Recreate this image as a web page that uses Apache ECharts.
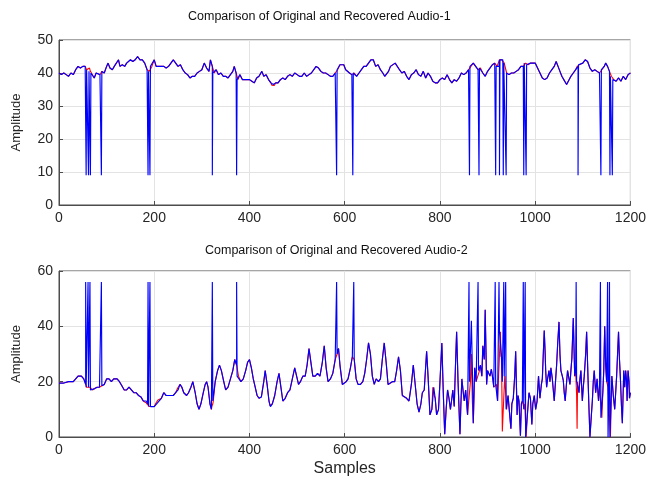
<!DOCTYPE html>
<html>
<head>
<meta charset="utf-8">
<script src="https://cdn.jsdelivr.net/npm/echarts@6/dist/echarts.min.js"></script>
<style>html,body{margin:0;padding:0;background:#fff;}#c{width:649px;height:480px;}</style>
</head>
<body>
<div id="c"></div>
<script>
// ---------- Audio-1 (recovered, without impulses) : [sample, amplitude]
const audio1 = [[0,40],[5,39.5],[10,40],[15,39.5],[20,39],[25,40],[30,39.5],[35,41],[40,42],[45,41.5],[50,42],[55,42],[58,41],[62,41],[66,40.5],[70,40],[74,38.5],[78,40],[82,40],[86,39.5],[90,40.5],[95,40],[100,42],[103,43],[107,41.5],[112,41],[116,42],[120,42.5],[125,44],[128,42],[133,42.5],[138,42],[142,43],[146,42.5],[150,44],[155,43.5],[160,44],[165,45],[170,44],[175,44],[180,43],[185,41],[190,40.5],[195,42],[200,44],[204,42],[210,42],[215,42],[220,42],[225,41.5],[230,42],[235,43],[240,44],[245,43],[250,42],[255,42.5],[260,41],[265,40],[270,39.5],[275,38.5],[280,39],[285,39],[290,40],[295,40.5],[300,41],[305,43],[310,41.5],[315,40.5],[318,44],[322,42],[326,40],[330,41],[335,39.5],[340,40],[345,39],[350,39],[355,38.5],[360,39.5],[365,40.5],[368,42],[372,40],[376,38],[380,39.5],[385,38],[390,38],[395,38],[400,38],[405,37.5],[410,37],[415,38.5],[420,39],[426,40.5],[430,39],[435,39.5],[440,38],[445,37],[450,36.5],[455,37],[460,37],[465,38],[470,38.5],[475,38],[480,39],[485,39.5],[490,39],[495,40],[500,39.5],[505,39],[510,39],[515,40],[520,39],[525,39.5],[530,40],[535,41],[540,42],[545,41.5],[550,40.5],[555,40],[560,40],[565,39.5],[570,39],[575,39],[580,40],[585,41],[590,42.5],[594,43],[598,42.5],[602,41],[606,41.5],[610,40],[615,39.5],[620,40],[625,39],[630,40],[635,41],[640,42],[645,42],[650,43],[655,44],[660,44],[665,42],[670,42.5],[675,41],[680,40],[684,39],[688,39.5],[692,40.5],[696,42],[700,42],[706,43],[710,42.5],[715,41],[720,40],[725,40.5],[730,39],[735,38],[740,39.5],[745,40],[750,41],[755,39.5],[760,39],[765,40.5],[770,38.5],[775,40],[780,39],[785,37.5],[790,37],[795,37],[800,38],[805,38.5],[810,38],[815,39.5],[820,38],[825,37],[830,38],[835,37.5],[840,38.5],[845,40],[850,39.5],[855,40],[860,41],[865,42],[870,43],[875,42],[880,41],[885,41.5],[890,40],[895,39],[900,40.5],[905,41.5],[910,42.5],[915,43],[920,42],[925,44],[930,44],[935,43],[940,40],[945,39.5],[950,40],[955,40],[960,40.5],[965,41],[970,42],[975,42],[980,43],[985,42.5],[990,43],[995,43],[1000,43],[1005,41.5],[1010,40],[1015,38.5],[1020,38],[1025,38.5],[1030,40],[1035,41],[1040,42],[1044,43.5],[1048,42],[1052,40.5],[1056,39],[1060,38],[1066,36.5],[1070,37],[1075,39],[1080,40],[1085,41],[1090,42],[1095,42.5],[1100,43],[1105,44],[1110,43.5],[1115,41.5],[1120,40.5],[1125,41],[1130,40.5],[1135,40],[1140,41],[1145,42],[1148,43],[1152,42],[1156,40.5],[1160,39],[1165,38],[1170,37.5],[1175,38.5],[1180,37.5],[1185,39],[1190,38],[1195,39.5],[1200,40]];
// impulse positions (samples) and impulse level in Audio-1
const spikes1 = [57,62,66,89,187,191,322,373,583,617,862,882,917,925,933,939,976,981,1090,1138,1157,1162];
const spikeLevel1 = 9;
// points where the original Audio-1 differs from the recovered one
const origDiff1 = [[64,41.5],[92,41],[181,43.5],[184,42.5],[257,43],[259,42],[320,43],[447,36.3],[452,36.2],[872,43.5],[984,43.2],[1088,42],[1092,42.6],[1094,42.6]];

// ---------- Audio-2 (recovered, without impulses)
const audio2 = [[0,19.5],[10,19.5],[20,20],[30,20],[35,21],[40,22],[47,22],[52,21],[56,19],[60,18],[65,18],[70,17],[75,17.5],[80,18],[85,18],[90,18.5],[95,19],[100,21],[105,21],[110,20],[115,21],[122,21],[127,20],[132,18.5],[137,17],[142,17],[147,18],[152,17],[157,16],[162,16],[167,15],[172,14.5],[177,13],[183,13],[186,12],[190,11],[195,11],[200,11],[205,12],[210,13],[215,14],[220,16],[225,15],[232,15],[240,15],[245,16],[250,17],[254,19],[258,18],[262,16],[268,15],[272,16],[277,18],[281,20],[286,16],[290,12],[294,10],[298,12],[303,16],[307,19],[310,20],[313,18],[317,12],[320,10],[324,13],[328,20],[333,24],[337,26],[341,24],[346,20],[350,17],[355,18],[360,21],[365,24],[369,28],[373,26],[377,22],[382,20],[387,21],[392,24],[396,27],[400,28],[404,25],[408,21],[412,18],[416,15],[420,14],[425,14.5],[430,20],[433,24],[437,19],[441,13],[444,11],[448,12],[453,15],[458,20],[462,23],[466,18],[470,13],[475,14],[480,16],[485,17],[490,21],[495,25],[499,22],[503,19],[507,20],[512,22],[517,22],[521,26],[525,32],[529,27],[533,22],[538,22],[543,23],[548,22],[553,27],[557,33],[561,25],[565,20],[570,21],[575,23],[580,28],[584,30],[587,32],[590,26],[595,19],[599,19],[603,20],[607,21],[612,25],[616,29],[620,28],[624,21],[628,19],[633,19],[638,20],[642,23],[646,28],[650,34],[654,30],[658,22],[662,19],[666,21],[671,20],[675,21],[679,28],[683,34],[687,27],[691,19],[695,19.5],[700,20],[705,20],[709,24],[713,29],[717,24],[721,15],[725,14.5],[730,14],[735,13],[740,19],[744,26],[748,19],[752,12],[756,9],[760,12],[763,16],[767,17],[772,31],[775,22],[779,8],[783,10],[787,18],[790,14],[793,8],[797,10],[800,20],[804,34],[807,16],[810,1],[813,10],[816,17],[819,14],[822,10],[825,14],[827,17],[830,11],[833,28],[835,38],[838,20],[842,1],[844,12],[846,21],[849,16],[851,13],[854,17],[858,8],[864,20],[866,42],[868,25],[870,5],[873,25],[876,20],[883,24],[885,26],[888,22],[890,33],[893,28],[895,46],[898,19],[900,24],[902,23.5],[905,22],[908,24.5],[911,21],[913,18],[919,19],[921,13],[927,38],[929,30],[931,20],[936,22],[940,10],[943,15],[946,9],[949,3],[951,12],[954,14],[957,22],[959,31],[962,8],[964,15],[966,13],[969,0.5],[971,12],[973,13],[977,10],[981,0],[984,9],[987,16],[990,14],[993,4.5],[995,12],[998,15],[1001,10],[1004,13],[1007,22],[1010,14],[1013,19],[1015,21],[1017,30],[1019,38.5],[1021,30],[1022,24],[1024,18],[1026,21],[1029,24],[1031,20],[1033,25],[1036,21],[1038,17],[1040,13],[1043,21],[1045,26],[1047,33],[1050,41.6],[1052,30],[1054,24],[1057,22],[1059,20.5],[1061,16],[1063,13],[1066,20],[1068,24],[1071,21],[1073,19],[1075,24],[1077,28.4],[1080,43],[1083,22],[1085,24],[1089,20],[1092,16],[1094,21],[1096,24],[1099,13],[1101,18],[1103,22],[1106,30],[1108,38],[1111,21],[1113,10],[1115,0],[1118,8],[1120,13],[1122,20],[1124,24],[1127,16],[1130,21],[1133,13],[1135,18],[1140,7],[1142,16],[1144,24],[1146,40],[1148,26],[1150,20],[1158,0],[1161,22],[1164,15],[1167,10],[1169,16],[1171,22],[1173,30],[1175,38],[1177,28],[1179,21],[1181,12],[1183,5],[1186,24],[1188,18],[1190,24],[1192,20],[1193,13],[1195,24],[1197,20],[1198,14],[1200,16]];
const spikes2 = [56,61,65,89,187,191,322,373,583,619,861,880,916,924,934,938,975,979,1086,1137,1152,1156];
const spikeLevel2 = 56;
const origDiff2 = [[58,18],[60,17.4],[178,12.5],[182,12.5],[204,12.4],[208,13.4],[249,17.6],[321,11],[323,12],[443,11.3],[446,11.4],[460,20],[582,29],[618,29],[785,18],[788,15],[866,30],[868,13],[928,29],[930,18],[931,2],[972,12.6],[975,13],[978,12],[1087,15],[1088,3],[1153,18],[1155,11]];

// ---------- axes
const xTicks = {min:0, max:1200, interval:200};
const y1Ticks = {min:0, max:50, interval:10};
const y2Ticks = {min:0, max:60, interval:20};

function withSpikes(base, spikes, level){
  const pts = base.map(p=>p.slice());
  spikes.forEach(s=>{
    const before = base.filter(p=>p[0]<=s-1).pop();
    const after = base.find(p=>p[0]>=s+1);
    pts.push([s-1,before[1]],[s,level],[s+1,after[1]]);
  });
  return pts.sort((a,b)=>a[0]-b[0]);
}
function withDiffs(base, diffs){
  const m = new Map(base.map(p=>[p[0],p[1]]));
  diffs.forEach(d=>m.set(d[0],d[1]));
  return [...m.entries()].sort((a,b)=>a[0]-b[0]);
}

const FONT = "'Liberation Sans', Arial, sans-serif";
const axisCol = '#4d4d4d';
const txtCol = '#262626';
function xAx(gi, name){
  return {type:'value', gridIndex:gi, min:xTicks.min, max:xTicks.max, interval:xTicks.interval,
    name:name||'', nameLocation:'middle', nameGap:24,
    nameTextStyle:{fontSize:16, color:txtCol, fontFamily:FONT},
    axisLine:{show:true, onZero:false, lineStyle:{color:axisCol, width:1}},
    axisTick:{show:true, inside:true, length:4, lineStyle:{color:axisCol}},
    axisLabel:{fontSize:14, color:txtCol, fontFamily:FONT, margin:6, formatter:v=>String(v)},
    splitLine:{show:true, lineStyle:{color:'#e3e3e3', width:1}}};
}
function yAx(gi, t){
  return {type:'value', gridIndex:gi, min:t.min, max:t.max, interval:t.interval,
    name:'Amplitude', nameLocation:'middle', nameGap:36, nameRotate:90,
    nameTextStyle:{fontSize:13, color:txtCol, fontFamily:FONT},
    axisLine:{show:true, lineStyle:{color:axisCol, width:1}},
    axisTick:{show:true, inside:true, length:4, lineStyle:{color:axisCol}},
    axisLabel:{fontSize:14, color:txtCol, fontFamily:FONT, margin:6, formatter:v=>String(v)},
    splitLine:{show:true, lineStyle:{color:'#e3e3e3', width:1}}};
}
function line(name, data, color, w, xi, yi, z){
  return {type:'line', name:name, data:data, xAxisIndex:xi, yAxisIndex:yi, showSymbol:false, symbol:'none',
    sampling:null, z:z, lineStyle:{color:color, width:w}, itemStyle:{color:color}, animation:false};
}

const chart = echarts.init(document.getElementById('c'), null, {renderer:'canvas'});
chart.setOption({
  animation:false,
  backgroundColor:'#ffffff',
  title:[
    {text:'Comparison of Original and Recovered Audio-1', left:183, top:5,
     textStyle:{fontSize:12.5, fontWeight:'normal', color:'#111', fontFamily:FONT}},
    {text:'Comparison of Original and Recovered Audio-2', left:200, top:239,
     textStyle:{fontSize:12.5, fontWeight:'normal', color:'#111', fontFamily:FONT}}
  ],
  grid:[
    {left:59, right:17, top:40, height:165, show:true, borderColor:axisCol, borderWidth:1, backgroundColor:'transparent'},
    {left:59, right:17, top:271, height:166, show:true, borderColor:axisCol, borderWidth:1, backgroundColor:'transparent'}
  ],
  xAxis:[xAx(0), xAx(1,'Samples')],
  yAxis:[yAx(0,y1Ticks), yAx(1,y2Ticks)],
  series:[
    line('Original Audio-1', withDiffs(audio1, origDiff1), '#ff0000', 1.1, 0, 0, 2),
    line('Recovered Audio-1', withSpikes(audio1, spikes1, spikeLevel1), '#0000ff', 1.15, 0, 0, 3),
    line('Original Audio-2', withDiffs(audio2, origDiff2), '#ff0000', 1.1, 1, 1, 2),
    line('Recovered Audio-2', withSpikes(audio2, spikes2, spikeLevel2), '#0000ff', 1.15, 1, 1, 3)
  ]
});
</script>
</body>
</html>
